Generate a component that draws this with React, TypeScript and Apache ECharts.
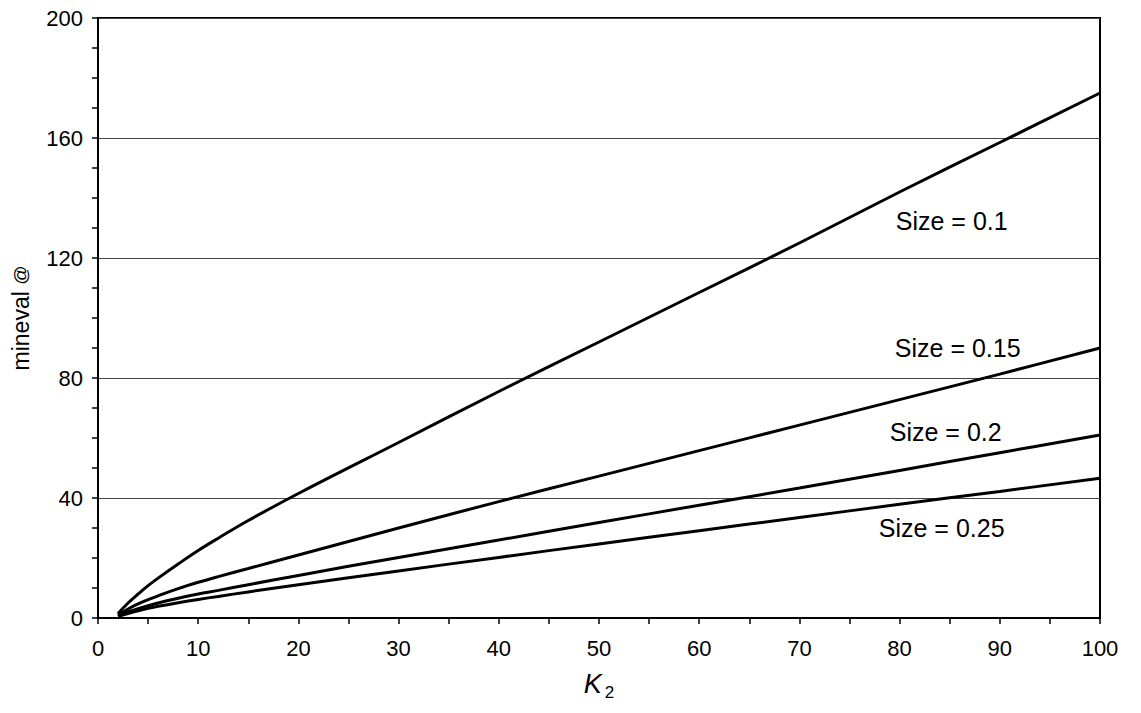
import React, { useEffect, useRef } from "react";
import * as echarts from "echarts";

const K2 = [2, 3, 4, 5, 6, 8, 10, 12, 15, 20, 30, 40, 50, 60, 70, 80, 90, 100];
const size010 = [1.5, 5, 8, 10.8, 13.3, 18, 22.5, 26.6, 32.5, 41.5, 58.5, 75.5, 92, 108.5, 125, 142, 158.5, 175];
const size015 = [1, 3, 4.7, 6.1, 7.4, 9.8, 11.9, 13.8, 16.5, 21, 30, 38.8, 47.3, 55.8, 64.3, 72.8, 81.3, 90];
const size020 = [0.7, 2, 3.1, 4.1, 5, 6.6, 8, 9.2, 11.1, 14.2, 20.2, 26, 31.8, 37.6, 43.3, 49.2, 55.1, 61];
const size025 = [0.5, 1.5, 2.4, 3.2, 3.9, 5.1, 6.2, 7.2, 8.7, 11.1, 15.7, 20.2, 24.7, 29.1, 33.5, 37.9, 42.2, 46.6];

const seriesNames = ["Size = 0.1", "Size = 0.15", "Size = 0.2", "Size = 0.25"];
const seriesValues = [size010, size015, size020, size025];
// label anchor points in data space [K2, mineval]
const labelAnchors: [number, number][] = [
  [85.2, 132.5],
  [85.8, 90],
  [84.6, 62],
  [84.2, 30],
];

const FONT = "'Liberation Sans', Arial, Helvetica, sans-serif";

export default function App() {
  const ref = useRef<HTMLDivElement>(null);
  useEffect(() => {
    if (!ref.current) return;
    const chart = echarts.init(ref.current, null, { renderer: "svg" });
    const series: any[] = seriesValues.map((vals, i) => ({
      type: "line",
      name: seriesNames[i],
      data: K2.map((k, j) => [k, vals[j]]),
      smooth: 0.4,
      showSymbol: false,
      symbol: "none",
      lineStyle: { color: "#000", width: 3 },
      markPoint: {
        symbol: "circle",
        symbolSize: 0,
        silent: true,
        data: [
          {
            coord: labelAnchors[i],
            label: {
              show: true,
              formatter: seriesNames[i],
              color: "#000",
              fontSize: 25,
              fontFamily: FONT,
              position: "inside",
            },
          },
        ],
      },
    }));
    chart.setOption({
      animation: false,
      backgroundColor: "#fff",
      grid: {
        left: 98,
        right: 41,
        top: 18,
        bottom: 95,
        show: true,
        borderColor: "#000",
        borderWidth: 2,
        backgroundColor: "transparent",
      },
      xAxis: {
        type: "value",
        min: 0,
        max: 100,
        interval: 10,
        name: "{k|K}{s|2}",
        nameLocation: "middle",
        nameGap: 52,
        nameTextStyle: {
          rich: {
            k: { fontSize: 27, fontStyle: "italic", fontFamily: FONT, color: "#000", verticalAlign: "bottom" },
            s: { fontSize: 17, fontFamily: FONT, color: "#000", verticalAlign: "bottom", padding: [0, 0, -4, 3] },
          },
        },
        axisLine: { show: true, lineStyle: { color: "#000", width: 2 } },
        axisTick: { show: true, length: 6, lineStyle: { color: "#000", width: 1.5 } },
        minorTick: { show: true, splitNumber: 2, length: 6, lineStyle: { color: "#000", width: 1.5 } },
        splitLine: { show: false },
        axisLabel: { color: "#000", fontSize: 22, fontFamily: FONT, margin: 19 },
      },
      yAxis: {
        type: "value",
        min: 0,
        max: 200,
        interval: 40,
        name: "{m|mineval }{a|@}",
        nameLocation: "middle",
        nameGap: 66,
        nameTextStyle: {
          rich: {
            m: { color: "#000", fontSize: 23, fontFamily: FONT },
            a: { color: "#000", fontSize: 19, fontFamily: FONT },
          },
        },
        axisLine: { show: true, lineStyle: { color: "#000", width: 2 } },
        axisTick: { show: true, length: 6, lineStyle: { color: "#000", width: 1.5 } },
        minorTick: { show: true, splitNumber: 4, length: 6, lineStyle: { color: "#000", width: 1.5 } },
        splitLine: { show: true, lineStyle: { color: "#444", width: 1 } },
        axisLabel: { color: "#000", fontSize: 22, fontFamily: FONT, margin: 15 },
      },
      series,
    });
    return () => chart.dispose();
  }, []);
  return (
    <div
      ref={ref}
      style={{ position: "fixed", left: 0, top: 0, width: 1141, height: 713, background: "#fff" }}
    />
  );
}
